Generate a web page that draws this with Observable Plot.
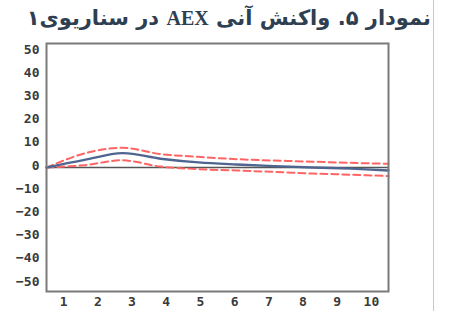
<!DOCTYPE html>
<html>
<head>
<meta charset="utf-8">
<script src="https://cdn.jsdelivr.net/npm/d3@7"></script>
<script src="https://cdn.jsdelivr.net/npm/@observablehq/plot@0.6"></script>
<style>
  html, body { margin: 0; padding: 0; background: #fff; }
  #wrap { position: relative; width: 450px; height: 311px; overflow: hidden; }
  #edge { position: absolute; left: 433px; top: 0; width: 1px; height: 311px; background: #c8c8c8; }
  #title { position: absolute; top: 0; left: 0; width: 431px; height: 38px; direction: rtl; text-align: right;
           font-family: "DejaVu Sans", sans-serif; font-weight: bold; font-size: 21px; line-height: 36px; color: #2f3f52; white-space: nowrap; }
  #title .lat { font-family: "Liberation Serif", "DejaVu Serif", serif; font-size: 20px; }
  #chart { position: absolute; top: 38px; left: 0; }
</style>
</head>
<body>
<div id="wrap">
  <div id="title">نمودار ۵. واکنش آنی <span class="lat">AEX</span> در سناریوی۱</div>
  <div id="chart"></div>
  <div id="edge"></div>
</div>
<script>
const periods  = [1, 2, 3, 4, 5, 6, 7, 8, 9, 10];
const response = [0, 3.3, 6.2, 3.8, 2.2, 1.3, 0.6, 0.0, -0.5, -1.3];
const upper    = [0, 6.1, 8.5, 5.8, 4.6, 3.6, 3.0, 2.5, 2.0, 1.6];
const lower    = [0, 1.0, 3.1, 0.4, -0.7, -1.3, -1.9, -2.6, -3.1, -3.7];
const yTicks   = [-50, -40, -30, -20, -10, 0, 10, 20, 30, 40, 50];

const n = periods.length;
// EViews style: points span the frame edge to edge, labels sit at bin centres
const px = (i) => 0.5 + i * n / (n - 1);
const rows = periods.map((p, i) => ({p, x: px(i), r: response[i], u: upper[i], l: lower[i]}));

const tickFont = {fontFamily: "DejaVu Sans Mono, monospace", fontWeight: "bold", fontSize: 13, fill: "#3a3a3a"};

const chart = Plot.plot({
  width: 450,
  height: 273,
  marginLeft: 46,
  marginRight: 62,
  marginTop: 5,
  marginBottom: 20,
  x: {domain: [0.5, n + 0.5]},
  y: {domain: [-53.5, 53.5]},
  style: {background: "transparent", overflow: "visible"},
  marks: [
    Plot.ruleY([0], {stroke: "#555", strokeWidth: 1.6}),
    Plot.line(rows, {x: "x", y: "u", stroke: "#ff6464", strokeWidth: 2, strokeDasharray: "7,4", curve: "catmull-rom"}),
    Plot.line(rows, {x: "x", y: "l", stroke: "#ff6464", strokeWidth: 2, strokeDasharray: "7,4", curve: "catmull-rom"}),
    Plot.line(rows, {x: "x", y: "r", stroke: "#4f6591", strokeWidth: 2.4, curve: "catmull-rom"}),
    Plot.frame({stroke: "#7a7a7a", strokeWidth: 2}),
    Plot.axisY({ticks: yTicks, tickSize: 0, tickPadding: 7, dy: -2, label: null, ...tickFont}),
    Plot.axisX({ticks: periods, tickSize: 0, tickPadding: 5, label: null, ...tickFont})
  ]
});
document.getElementById("chart").appendChild(chart);
</script>
</body>
</html>
